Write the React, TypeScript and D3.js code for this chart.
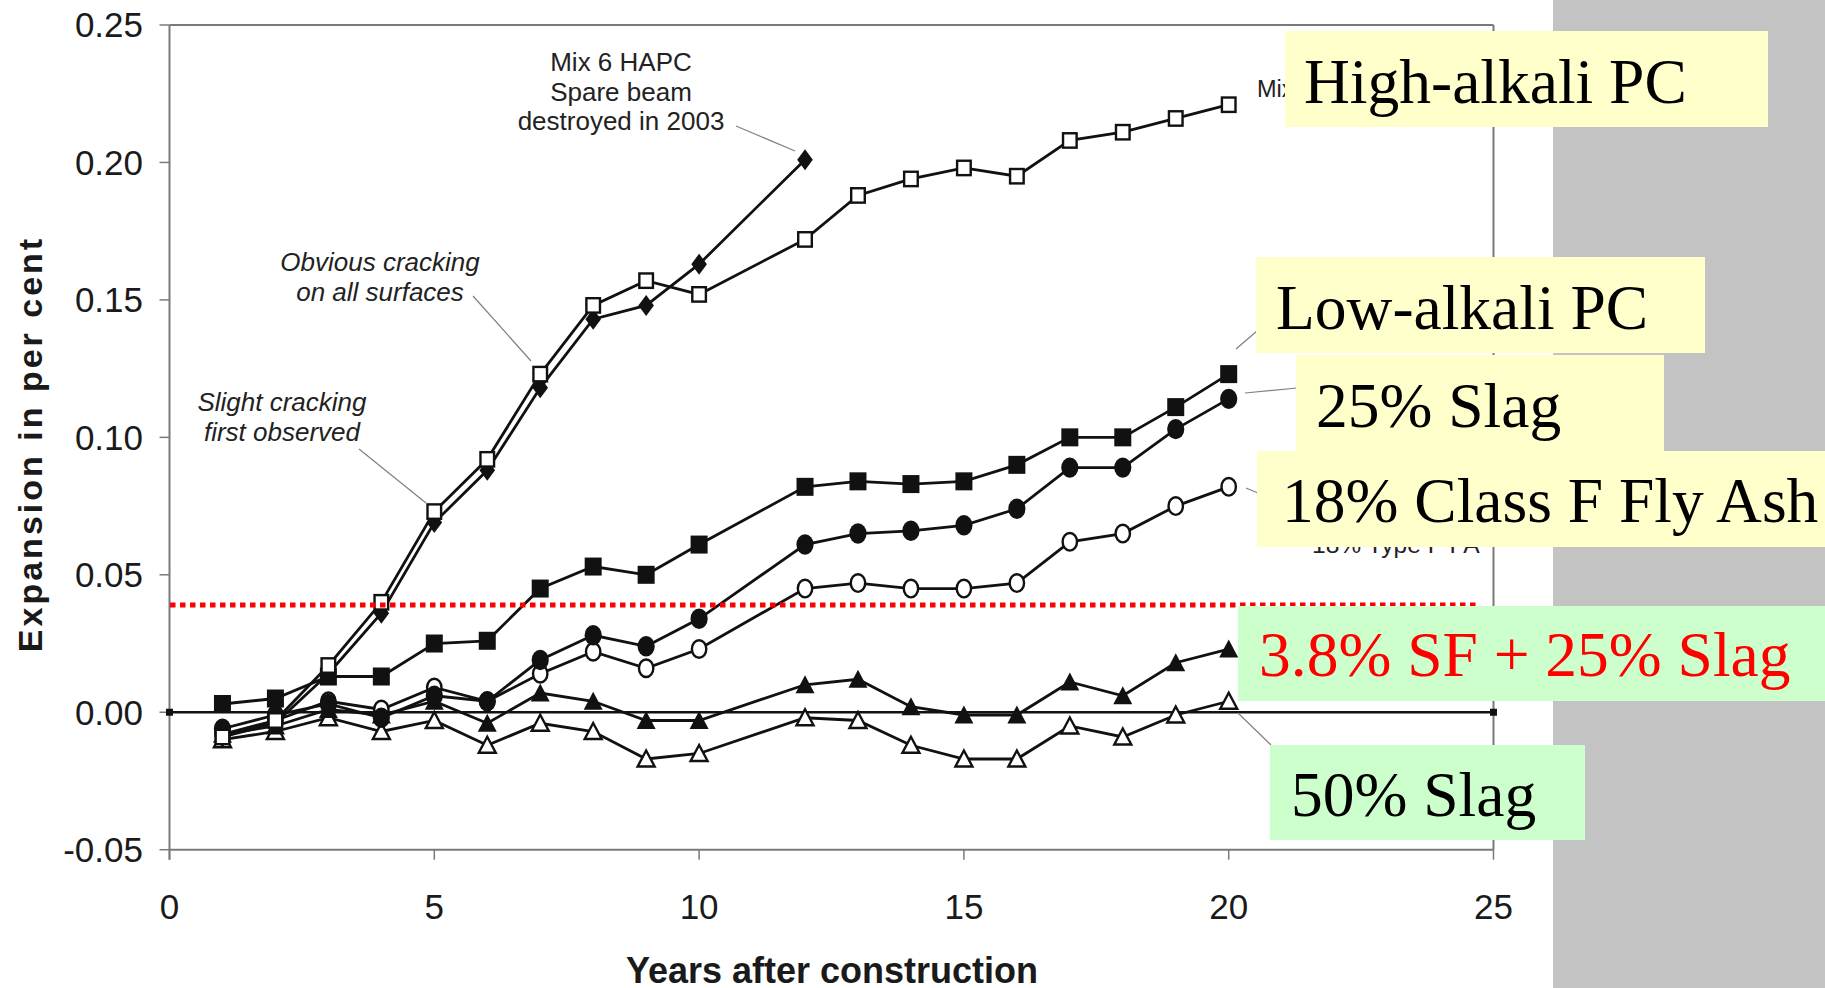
import React from 'react';
import * as d3 from 'd3';

const W = 1825;
const H = 988;

// Measurement years (no reading in year 11)
const years = [1, 2, 3, 4, 5, 6, 7, 8, 9, 10, 12, 13, 14, 15, 16, 17, 18, 19, 20];
const spareBeamYears = [1, 2, 3, 4, 5, 6, 7, 8, 9, 10, 12];

// Expansion in per cent for each mix
const highAlkaliPC = [-0.009, -0.003, 0.017, 0.040, 0.073, 0.092, 0.123, 0.148, 0.157, 0.152, 0.172, 0.188, 0.194, 0.198, 0.195, 0.208, 0.211, 0.216, 0.221];
const spareBeam = [-0.009, -0.004, 0.014, 0.036, 0.069, 0.088, 0.118, 0.143, 0.148, 0.163, 0.201];
const lowAlkaliPC = [0.003, 0.005, 0.013, 0.013, 0.025, 0.026, 0.045, 0.053, 0.050, 0.061, 0.082, 0.084, 0.083, 0.084, 0.090, 0.100, 0.100, 0.111, 0.123];
const slag25 = [-0.006, -0.001, 0.003, -0.002, 0.006, 0.004, 0.019, 0.028, 0.024, 0.034, 0.061, 0.065, 0.066, 0.068, 0.074, 0.089, 0.089, 0.103, 0.114];
const flyAsh18 = [-0.008, -0.003, 0.004, 0.001, 0.009, 0.004, 0.014, 0.022, 0.016, 0.023, 0.045, 0.047, 0.045, 0.045, 0.047, 0.062, 0.065, 0.075, 0.082];
const sfSlag = [-0.008, -0.005, 0.001, -0.001, 0.004, -0.004, 0.007, 0.004, -0.003, -0.003, 0.010, 0.012, 0.002, -0.001, -0.001, 0.011, 0.006, 0.018, 0.023];
const slag50 = [-0.010, -0.007, -0.002, -0.007, -0.003, -0.012, -0.004, -0.007, -0.017, -0.015, -0.002, -0.003, -0.012, -0.017, -0.017, -0.005, -0.009, -0.001, 0.004];

const thresholdValue = 0.039;

const xTicks = [0, 5, 10, 15, 20, 25];
const yTicks = [-0.05, 0, 0.05, 0.1, 0.15, 0.2, 0.25];

const calloutTexts = ['High-alkali PC', 'Low-alkali PC', '25% Slag', '18% Class F Fly Ash', '3.8% SF + 25% Slag', '50% Slag'];

const x = d3.scaleLinear().domain([0, 25]).range([169.5, 1493.5]);
const y = d3.scaleLinear().domain([-0.05, 0.25]).range([849.7, 25]);

type MarkerKind = 'openSquare' | 'diamond' | 'square' | 'circle' | 'openCircle' | 'triangle' | 'openTriangle';

const series: { xs: number[]; ys: number[]; marker: MarkerKind }[] = [
  { xs: years, ys: slag50, marker: 'openTriangle' },
  { xs: years, ys: sfSlag, marker: 'triangle' },
  { xs: years, ys: flyAsh18, marker: 'openCircle' },
  { xs: years, ys: slag25, marker: 'circle' },
  { xs: years, ys: lowAlkaliPC, marker: 'square' },
  { xs: spareBeamYears, ys: spareBeam, marker: 'diamond' },
  { xs: years, ys: highAlkaliPC, marker: 'openSquare' },
];

function Marker({ kind, cx, cy }: { kind: MarkerKind; cx: number; cy: number }) {
  const sw = 2.4;
  switch (kind) {
    case 'openSquare':
      return <rect x={cx - 6.8} y={cy - 7.2} width={13.6} height={14.4} fill="#fff" stroke="#111" strokeWidth={sw} />;
    case 'square':
      return <rect x={cx - 8.5} y={cy - 9} width={17} height={18} fill="#111" />;
    case 'diamond':
      return <path d={`M${cx},${cy - 10.5}L${cx + 7.8},${cy}L${cx},${cy + 10.5}L${cx - 7.8},${cy}Z`} fill="#111" />;
    case 'circle':
      return <ellipse cx={cx} cy={cy} rx={8.6} ry={10.2} fill="#111" />;
    case 'openCircle':
      return <ellipse cx={cx} cy={cy} rx={7.2} ry={8.8} fill="#fff" stroke="#111" strokeWidth={sw} />;
    case 'triangle':
      return <path d={`M${cx},${cy - 9.5}L${cx + 9.5},${cy + 8.5}L${cx - 9.5},${cy + 8.5}Z`} fill="#111" />;
    case 'openTriangle':
      return <path d={`M${cx},${cy - 8.5}L${cx + 8.5},${cy + 7.5}L${cx - 8.5},${cy + 7.5}Z`} fill="#fff" stroke="#111" strokeWidth={sw} strokeLinejoin="miter" />;
  }
  return null;
}

const sansFont = "'Liberation Sans', Arial, Helvetica, sans-serif";
const serifFont = "'Liberation Serif', 'Times New Roman', Times, serif";

// Callout box layout: left, top, right, bottom, text x, text baseline
const calloutLayout = [
  { x0: 1285, y0: 31, x1: 1768, y1: 127, tx: 1304, ty: 103, fill: '#ffffcc', color: '#000' },
  { x0: 1256, y0: 257, x1: 1705, y1: 353, tx: 1276, ty: 329, fill: '#ffffcc', color: '#000' },
  { x0: 1296, y0: 355, x1: 1664, y1: 451, tx: 1316, ty: 427, fill: '#ffffcc', color: '#000' },
  { x0: 1257, y0: 451, x1: 1825, y1: 547, tx: 1282, ty: 522, fill: '#ffffcc', color: '#000' },
  { x0: 1238, y0: 606, x1: 1825, y1: 701, tx: 1259, ty: 676, fill: '#ccffcc', color: '#ff0000' },
  { x0: 1270, y0: 745, x1: 1585, y1: 840, tx: 1291, ty: 816, fill: '#ccffcc', color: '#000' },
];

const tickFormat = (t: number) => d3.format('.2f')(t).replace('\u2212', '-');

export default function App() {
  const line = d3.line<[number, number]>().x((d) => x(d[0])).y((d) => y(d[1]));
  const [xMin, xMax] = x.range();
  const [yBottom, yTop] = y.range();
  const axisColor = '#7a7a7a';
  const leader = '#808080';

  return (
    <svg width={W} height={H} style={{ position: 'absolute', left: 0, top: 0, background: '#fff' }}>
      <defs>
        <clipPath id="clip-mix-label">
          <rect x={1240} y={60} width={45} height={60} />
        </clipPath>
        <clipPath id="clip-fa-label">
          <rect x={1300} y={547} width={193} height={20} />
        </clipPath>
      </defs>
      <rect x={0} y={0} width={W} height={H} fill="#fff" />
      <rect x={1553} y={0} width={W - 1553} height={H} fill="#c3c3c3" />

      {/* frame */}
      <line x1={xMin} x2={xMax} y1={yTop} y2={yTop} stroke={axisColor} strokeWidth={2} />
      <line x1={xMax} x2={xMax} y1={yTop} y2={yBottom} stroke={axisColor} strokeWidth={2} />
      <line x1={xMin} x2={xMax} y1={yBottom} y2={yBottom} stroke={axisColor} strokeWidth={2} />
      <line x1={xMin} x2={xMin} y1={yTop} y2={yBottom + 10} stroke={axisColor} strokeWidth={2} />

      {/* y axis */}
      {yTicks.map((t) => (
        <g key={`y${t}`}>
          <line x1={xMin - 10} x2={xMin} y1={y(t)} y2={y(t)} stroke={axisColor} strokeWidth={1.5} />
          <text x={143} y={y(t)} dy="0.35em" textAnchor="end" fontFamily={sansFont} fontSize={35} fill="#1a1a1a">
            {tickFormat(t)}
          </text>
        </g>
      ))}

      {/* x axis */}
      {xTicks.map((t) => (
        <g key={`x${t}`}>
          <line x1={x(t)} x2={x(t)} y1={yBottom} y2={yBottom + 10} stroke={axisColor} strokeWidth={1.5} />
          <text x={x(t)} y={919} textAnchor="middle" fontFamily={sansFont} fontSize={35} fill="#1a1a1a">
            {t}
          </text>
        </g>
      ))}

      <text x={832} y={983} textAnchor="middle" fontFamily={sansFont} fontSize={36} fontWeight="bold" fill="#1a1a1a">
        Years after construction
      </text>
      <text
        transform={`translate(42,444) rotate(-90)`}
        textAnchor="middle"
        fontFamily={sansFont}
        fontSize={34}
        fontWeight="bold"
        letterSpacing={3}
        fill="#1a1a1a"
      >
        Expansion in per cent
      </text>

      {/* zero line */}
      <line x1={xMin} x2={xMax} y1={y(0)} y2={y(0)} stroke="#111" strokeWidth={2.5} />
      <rect x={xMin - 3.5} y={y(0) - 3.5} width={7} height={7} fill="#111" />
      <rect x={xMax - 3.5} y={y(0) - 3.5} width={7} height={7} fill="#111" />

      {/* leader lines */}
      <g stroke={leader} strokeWidth={1.2}>
        <line x1={736} y1={126} x2={795} y2={151} />
        <line x1={473} y1={296} x2={531} y2={361} />
        <line x1={359} y1={449} x2={426} y2={503} />
        <line x1={1236} y1={349} x2={1257} y2={331} />
        <line x1={1245} y1={393} x2={1297} y2={388} />
        <line x1={1246} y1={488} x2={1258} y2={493} />
        <line x1={1238} y1={713} x2={1271} y2={745} />
      </g>

      {/* series */}
      {series.map((s, i) => (
        <path
          key={`l${i}`}
          d={line(s.xs.map((yr, j) => [yr, s.ys[j]] as [number, number])) || ''}
          fill="none"
          stroke="#111"
          strokeWidth={2.8}
        />
      ))}
      {series.map((s, i) => (
        <g key={`m${i}`}>
          {s.xs.map((yr, j) => (
            <Marker key={j} kind={s.marker} cx={x(yr)} cy={y(s.ys[j])} />
          ))}
        </g>
      ))}

      {/* threshold */}
      <line
        x1={170}
        x2={1477}
        y1={y(thresholdValue)}
        y2={y(thresholdValue)}
        stroke="#ff0000"
        strokeWidth={5}
        strokeDasharray="5.5 4.5"
      />

      {/* notes */}
      <g fontFamily={sansFont} fontSize={26} fill="#222" textAnchor="middle">
        <text x={621} y={71}>Mix 6 HAPC</text>
        <text x={621} y={100.5}>Spare beam</text>
        <text x={621} y={130}>destroyed in 2003</text>
        <text x={380} y={271} fontStyle="italic">Obvious cracking</text>
        <text x={380} y={301} fontStyle="italic">on all surfaces</text>
        <text x={282} y={411} fontStyle="italic">Slight cracking</text>
        <text x={282} y={441} fontStyle="italic">first observed</text>
      </g>
      <g clipPath="url(#clip-mix-label)">
        <text x={1257} y={97} fontFamily={sansFont} fontSize={23.5} fill="#222">Mix 6 HAPC</text>
      </g>
      <g clipPath="url(#clip-fa-label)">
        <text x={1312} y={553} fontFamily={sansFont} fontSize={24.6} fill="#222">18% Type F FA</text>
      </g>

      {/* callouts */}
      {calloutLayout.map((b, i) => (
        <g key={`c${i}`}>
          <rect x={b.x0} y={b.y0} width={b.x1 - b.x0} height={b.y1 - b.y0} fill={b.fill} />
          <text x={b.tx} y={b.ty} fontFamily={serifFont} fontSize={63.5} fill={b.color}>
            {calloutTexts[i]}
          </text>
        </g>
      ))}
    </svg>
  );
}
